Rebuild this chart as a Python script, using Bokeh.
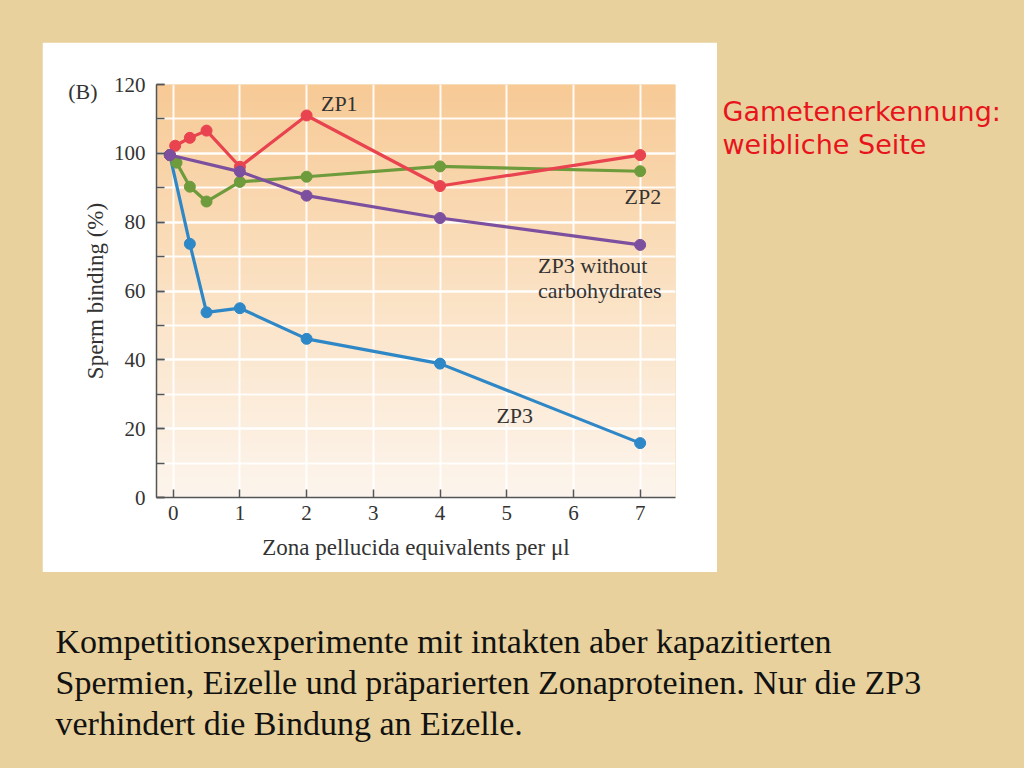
import numpy as np
from bokeh.plotting import figure
from bokeh.layouts import column, row
from bokeh.models import Range1d, FixedTicker, SingleIntervalTicker, Label, LinearAxis
from bokeh.core.properties import value
from bokeh.embed import file_html
from bokeh.resources import INLINE

# ---------------- data ----------------
zp1_x = [-0.05, 0.03, 0.25, 0.5, 1, 2, 4, 7]
zp1_y = [99.5, 102.2, 104.5, 106.6, 96.1, 111.0, 90.5, 99.5]

zp2_x = [-0.05, 0.05, 0.25, 0.5, 1, 2, 4, 7]
zp2_y = [99.5, 97.3, 90.3, 86.0, 91.7, 93.2, 96.2, 94.8]

zp3_x = [-0.05, 0.25, 0.5, 1, 2, 4, 7]
zp3_y = [99.5, 73.7, 53.8, 55.0, 46.1, 38.9, 15.8]

zp3nc_x = [-0.05, 1, 2, 4, 7]
zp3nc_y = [99.5, 94.7, 87.7, 81.2, 73.4]

x_ticks = [0, 1, 2, 3, 4, 5, 6, 7]
y_tick_interval = 20

x_label = "Zona pellucida equivalents per \u03bcl"
y_label = "Sperm binding (%)"
panel_tag = "(B)"
series_labels = ["ZP1", "ZP2", "ZP3 without", "carbohydrates", "ZP3"]
side_title = ["Gametenerkennung:", "weibliche Seite"]
caption = ["Kompetitionsexperimente mit intakten aber kapazitierten",
           "Spermien, Eizelle und pr\u00e4parierten Zonaproteinen. Nur die ZP3",
           "verhindert die Bindung an Eizelle."]

# ---------------- styles ----------------
TAN = "#e8d19c"
SERIF = "Liberation Serif"
SANS = "DejaVu Sans"
TXT = "#333333"
C_RED = "#e8434f"
C_GREEN = "#6e9b3b"
C_PURPLE = "#7c4f9f"
C_BLUE = "#2e87c6"

W_TOTAL = 1024
H_TOTAL = 768
PANEL_L, PANEL_T = 42, 42
CH_W, CH_H = 675, 530
FR_L, FR_R, FR_T, FR_B = 156, 675, 84, 497   # plot frame in page pixels
RIGHT_W = W_TOTAL - PANEL_L - CH_W
BOT_H = H_TOTAL - PANEL_T - CH_H


def blank(w, h, xr, yr, **kw):
    f = figure(width=w, height=h, output_backend="svg", toolbar_location=None,
               x_range=xr, y_range=yr, min_border=0, **kw)
    f.axis.visible = False
    f.grid.visible = False
    f.outline_line_color = None
    f.background_fill_color = TAN
    f.border_fill_color = TAN
    return f


# ---------------- chart ----------------
XR = Range1d(-0.25, 7.53)
YR = Range1d(0, 120)
p = figure(width=CH_W, height=CH_H, output_backend="svg", toolbar_location=None,
           x_range=XR, y_range=YR,
           min_border_left=FR_L - PANEL_L, min_border_right=PANEL_L + CH_W - FR_R,
           min_border_top=FR_T - PANEL_T, min_border_bottom=PANEL_T + CH_H - FR_B)
p.border_fill_color = "white"
p.background_fill_color = "#fbe3c8"
p.outline_line_color = None

# vertical gradient background of the plot area (decoration)
n = 240
t = np.linspace(0, 1, n)[:, None]  # 0 bottom -> 1 top
bottom_c = np.array([253, 245, 237], dtype=float)
mid_c = np.array([251, 226, 196], dtype=float)
top_c = np.array([247, 202, 150], dtype=float)
col = np.where(t < 0.5,
               bottom_c + (mid_c - bottom_c) * (t / 0.5),
               mid_c + (top_c - mid_c) * ((t - 0.5) / 0.5))
col = col.astype(np.uint32)  # shape (n, 3)
img = (np.uint32(255) << 24) | (col[:, 2] << 16) | (col[:, 1] << 8) | col[:, 0]
img = img.astype(np.uint32).reshape(n, 1)
p.image_rgba(image=[img], x=XR.start, y=YR.start, dw=XR.end - XR.start,
             dh=YR.end - YR.start, level="image")

# grid
p.xgrid.ticker = FixedTicker(ticks=x_ticks)
p.xgrid.grid_line_color = "white"
p.xgrid.grid_line_width = 2
p.xgrid.grid_line_alpha = 0.9
p.ygrid.grid_line_color = "white"
p.ygrid.grid_line_width = 2
p.ygrid.grid_line_alpha = 0.9
p.ygrid.minor_grid_line_color = "white"
p.ygrid.minor_grid_line_width = 2
p.ygrid.minor_grid_line_alpha = 0.9

# axes
p.xaxis.ticker = FixedTicker(ticks=x_ticks)
p.yaxis.ticker = SingleIntervalTicker(interval=y_tick_interval, num_minor_ticks=2)
p.ygrid.ticker = p.yaxis.ticker
for ax in (p.xaxis, p.yaxis):
    ax.axis_line_color = "#555555"
    ax.axis_line_width = 1.5
    ax.major_tick_line_color = "#555555"
    ax.major_tick_line_width = 1.5
    ax.minor_tick_line_color = "#555555"
    ax.minor_tick_line_width = 1.5
    ax.major_tick_in = 8
    ax.major_tick_out = 0
    ax.minor_tick_in = 8
    ax.minor_tick_out = 0
    ax.major_label_text_font = SERIF
    ax.major_label_text_font_size = "21px"
    ax.major_label_text_color = TXT
    ax.axis_label_text_font = SERIF
    ax.axis_label_text_font_size = "23px"
    ax.axis_label_text_font_style = "normal"
    ax.axis_label_text_color = TXT
p.xaxis.minor_tick_line_color = None
p.xaxis.axis_label = x_label
p.yaxis.axis_label = y_label
p.xaxis.major_label_standoff = 8
p.yaxis.major_label_standoff = 11
p.xaxis.axis_label_standoff = 12
p.yaxis.axis_label_standoff = 3

# panel tag "(B)" as an extra, line-less axis label on the left
tag_axis = LinearAxis(ticker=FixedTicker(ticks=[118]),
                      major_label_overrides={118: panel_tag},
                      axis_line_color=None, major_tick_line_color=None,
                      minor_tick_line_color=None, major_tick_in=0, major_tick_out=0,
                      major_label_standoff=-18,
                      major_label_text_font=SERIF, major_label_text_font_size="22px",
                      major_label_text_color=TXT)
p.add_layout(tag_axis, "left")

# series
for xs, ys, c in [(zp3_x, zp3_y, C_BLUE), (zp2_x, zp2_y, C_GREEN),
                  (zp1_x, zp1_y, C_RED), (zp3nc_x, zp3nc_y, C_PURPLE)]:
    p.line(xs, ys, line_color=c, line_width=3.2)
    p.scatter(xs, ys, size=11, fill_color=c, line_color=c)

# series labels
lab_kw = dict(text_font=SERIF, text_font_size="22px", text_color=TXT,
              text_baseline="middle")
p.add_layout(Label(x=2.49, y=114.5, text=series_labels[0], text_align="center", **lab_kw))
p.add_layout(Label(x=7.04, y=87.4, text=series_labels[1], text_align="center", **lab_kw))
p.add_layout(Label(x=5.47, y=67.4, text=series_labels[2], text_align="left", **lab_kw))
p.add_layout(Label(x=5.47, y=60.1, text=series_labels[3], text_align="left", **lab_kw))
p.add_layout(Label(x=5.12, y=23.9, text=series_labels[4], text_align="center", **lab_kw))

# ---------------- slide parts (coordinates = page pixels) ----------------
top = blank(W_TOTAL, PANEL_T, Range1d(0, W_TOTAL), Range1d(PANEL_T, 0))
left = blank(PANEL_L, CH_H, Range1d(0, PANEL_L), Range1d(FR_B, FR_T),
             min_border_top=FR_T - PANEL_T, min_border_bottom=PANEL_T + CH_H - FR_B)
right = blank(RIGHT_W, CH_H, Range1d(PANEL_L + CH_W, W_TOTAL), Range1d(FR_B, FR_T),
              min_border_top=FR_T - PANEL_T, min_border_bottom=PANEL_T + CH_H - FR_B)
right.text(x=[722, 722], y=[111, 144], text=side_title, text_font=value(SANS),
           text_font_size="27px", text_color="#e8141c", text_align="left",
           text_baseline="middle")
bottom = blank(W_TOTAL, BOT_H, Range1d(0, W_TOTAL), Range1d(H_TOTAL, H_TOTAL - BOT_H))
bottom.text(x=[55, 55, 55], y=[641, 682, 723], text=caption, text_font=value(SERIF),
            text_font_size="34px", text_color="#111111", text_align="left",
            text_baseline="middle")

page = column(top, row(left, p, right, spacing=0), bottom, spacing=0,
              styles={"background-color": TAN})

open("out.html", "w").write(file_html(page, INLINE))
